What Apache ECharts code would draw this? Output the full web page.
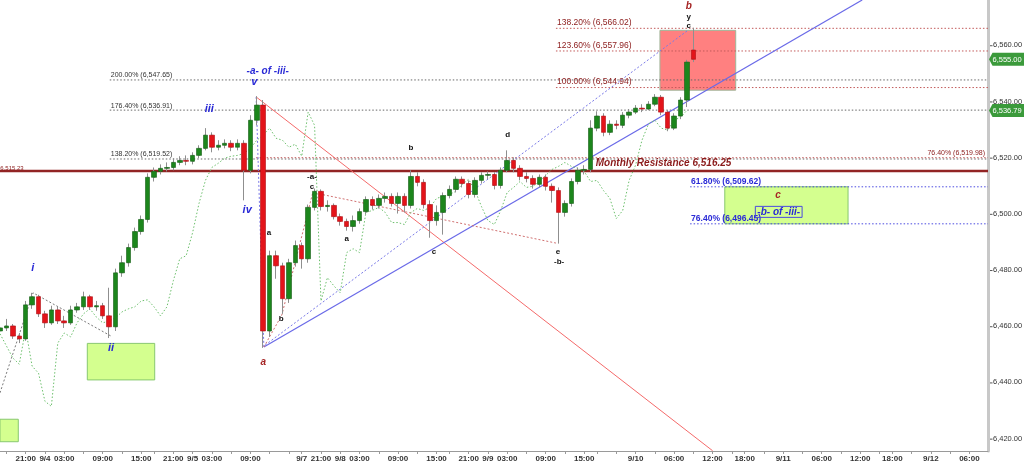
<!DOCTYPE html>
<html><head><meta charset="utf-8">
<script src="https://cdn.jsdelivr.net/npm/echarts@6/dist/echarts.min.js"></script>
<style>html,body{margin:0;padding:0;background:#fff;}#c{width:1024px;height:464px;}</style>
</head><body><div id="c"></div>
<script>
// ---------- axis calendar (hourly bars, 17:00 break, weekend gap) ----------
const sessionDays = ['9/3','9/4','9/5','9/7','9/8','9/9','9/10','9/11','9/12'];
function sessionHours(day){
  const h0_16 = [0,1,2,3,4,5,6,7,8,9,10,11,12,13,14,15,16];
  const h18_23 = [18,19,20,21,22,23];
  if (day === '9/3') return [16].concat(h18_23);
  if (day === '9/5') return h0_16;
  if (day === '9/7') return h18_23;
  if (day === '9/12') return [0,1,2,3,4,5,6,7,8,9];
  return h0_16.concat(h18_23);
}
const barTimes = [];
sessionDays.forEach(d => sessionHours(d).forEach(h => barTimes.push(d + ' ' + String(h).padStart(2,'0') + ':00')));

const xTickLabels = [
  ['9/3 21:00','21:00'],['9/4 00:00','9/4'],['9/4 03:00','03:00'],['9/4 09:00','09:00'],['9/4 15:00','15:00'],
  ['9/4 21:00','21:00'],['9/5 00:00','9/5'],['9/5 03:00','03:00'],['9/5 09:00','09:00'],['9/7 18:00','9/7'],
  ['9/7 21:00','21:00'],['9/8 00:00','9/8'],['9/8 03:00','03:00'],['9/8 09:00','09:00'],['9/8 15:00','15:00'],
  ['9/8 21:00','21:00'],['9/9 00:00','9/9'],['9/9 03:00','03:00'],['9/9 09:00','09:00'],['9/9 15:00','15:00'],
  ['9/10 00:00','9/10'],['9/10 06:00','06:00'],['9/10 12:00','12:00'],['9/10 18:00','18:00'],['9/11 00:00','9/11'],
  ['9/11 06:00','06:00'],['9/11 12:00','12:00'],['9/11 18:00','18:00'],['9/12 00:00','9/12'],['9/12 06:00','06:00']
];
const yTickValues = [6420,6440,6460,6480,6500,6520,6540,6560];

// ---------- price bars (hourly OHLC) ----------
const opens = [
 6458.3,6459.4,6460.1,6456.5,6455.5,6467.6,6470.5,6464.4,6461.2,6465.8,
 6461.9,6461.2,6465.8,6466.9,6470.5,6466.9,6467.3,6463.7,6459.8,6479.0,
 6482.6,6488.0,6493.7,6498.0,6513.0,6515.1,6516.2,6516.5,6518.3,6519.0,
 6518.7,6520.8,6523.3,6528.0,6523.7,6524.4,6525.1,6523.7,6525.1,6515.5,
 6533.3,6538.7,6458.3,6485.1,6481.5,6469.8,6482.6,6488.7,6484.0,6502.3,
 6508.0,6502.6,6503.0,6499.0,6497.3,6495.5,6497.6,6500.8,6505.1,6503.0,
 6505.5,6506.2,6503.7,6506.2,6503.0,6513.3,6511.2,6503.3,6497.6,6500.5,
 6506.5,6508.7,6512.3,6510.8,6506.9,6511.9,6513.7,6514.0,6510.1,6515.5,
 6519.0,6516.2,6513.3,6512.6,6510.5,6513.0,6509.8,6508.3,6500.5,6503.7,
 6511.5,6515.5,6515.8,6530.5,6534.8,6529.0,6531.9,6531.5,6535.1,6536.2,
 6537.6,6537.3,6539.0,6541.5,6536.2,6530.5,6534.8,6540.5,6558.3];
const closes = [
 6459.4,6460.1,6456.5,6455.5,6467.6,6470.5,6464.4,6461.2,6465.8,6461.9,
 6461.2,6465.8,6466.9,6470.5,6466.9,6467.3,6463.7,6459.8,6479.0,6482.6,
 6488.0,6493.7,6498.0,6513.0,6515.1,6516.2,6516.5,6518.3,6519.0,6518.7,
 6520.8,6523.3,6528.0,6523.7,6524.4,6525.1,6523.7,6525.1,6515.5,6533.3,
 6538.7,6458.3,6485.1,6481.5,6469.8,6482.6,6488.7,6484.0,6502.3,6508.0,
 6502.6,6503.0,6499.0,6497.3,6495.5,6497.6,6500.8,6505.1,6503.0,6505.5,
 6506.2,6503.7,6506.2,6503.0,6513.3,6511.2,6503.3,6497.6,6500.5,6506.5,
 6508.7,6512.3,6510.8,6506.9,6511.9,6513.7,6514.0,6510.1,6515.5,6519.0,
 6516.2,6513.3,6512.6,6510.5,6513.0,6509.8,6508.3,6500.5,6503.7,6511.5,
 6515.5,6515.8,6530.5,6534.8,6529.0,6531.9,6531.5,6535.1,6536.2,6537.6,
 6537.3,6539.0,6541.5,6536.2,6530.5,6534.8,6540.5,6554.0,6555.0];
const lows = [
 6456.9,6458.3,6455.5,6454.0,6454.8,6466.2,6463.3,6459.4,6460.5,6460.8,
 6459.4,6460.5,6464.8,6465.8,6465.8,6465.5,6462.6,6455.8,6458.3,6477.6,
 6481.2,6486.9,6492.6,6496.9,6511.5,6514.0,6515.1,6515.5,6517.3,6517.3,
 6517.6,6519.8,6522.6,6521.9,6522.6,6523.3,6522.3,6522.6,6504.8,6514.4,
 6531.5,6452.3,6456.2,6476.9,6464.4,6468.3,6481.2,6480.5,6482.6,6501.2,
 6501.2,6500.8,6498.0,6495.8,6494.0,6493.7,6496.5,6499.8,6501.5,6501.9,
 6504.0,6502.6,6500.1,6500.5,6501.9,6509.8,6501.9,6491.5,6495.8,6492.6,
 6505.5,6507.6,6509.4,6505.5,6505.8,6510.8,6512.3,6508.7,6509.0,6514.8,
 6514.8,6511.9,6511.2,6509.0,6509.4,6508.3,6504.0,6489.4,6499.0,6502.6,
 6510.5,6514.0,6514.8,6529.4,6527.6,6528.0,6530.1,6530.5,6534.0,6535.5,
 6536.2,6536.9,6538.3,6535.1,6529.4,6529.8,6533.7,6538.0,6554.0];
const highs = [
 6461.2,6462.6,6460.8,6457.6,6469.0,6471.9,6471.2,6465.5,6467.3,6466.9,
 6463.7,6467.3,6468.3,6472.3,6471.2,6469.0,6468.3,6473.7,6480.5,6485.1,
 6489.4,6495.1,6499.4,6514.4,6516.5,6517.6,6518.3,6519.8,6520.5,6520.8,
 6521.9,6524.4,6530.5,6529.0,6526.2,6526.5,6526.2,6526.5,6526.2,6535.1,
 6541.9,6540.5,6486.9,6486.9,6482.6,6484.0,6490.5,6489.8,6503.3,6509.0,
 6508.7,6504.8,6503.7,6500.1,6498.3,6499.4,6501.9,6506.2,6506.2,6506.9,
 6507.6,6507.3,6507.6,6507.3,6515.5,6514.8,6512.3,6504.8,6503.0,6507.6,
 6510.1,6513.3,6513.3,6511.9,6513.0,6514.8,6515.1,6514.8,6516.5,6522.6,
 6520.1,6517.3,6514.8,6513.7,6514.0,6514.0,6510.8,6509.4,6504.8,6512.6,
 6516.5,6517.3,6533.3,6536.5,6535.8,6533.3,6533.3,6536.2,6537.3,6538.7,
 6539.0,6540.1,6542.6,6542.3,6536.9,6535.8,6541.5,6554.8,6566.2];

// green dotted indicator
const indicator = [
 6457.3,6453.0,6448.7,6446.5,6459.0,6445.8,6443.3,6433.3,6431.5,6454.0,
 6457.6,6456.2,6461.2,6464.4,6466.2,6463.3,6461.2,6461.9,6463.0,6465.1,
 6466.2,6466.9,6469.0,6469.4,6466.9,6463.7,6466.9,6476.2,6484.0,6485.1,
 6493.3,6503.7,6511.9,6516.5,6518.0,6519.8,6520.5,6520.8,6521.5,6523.3,
 6526.2,6528.0,6530.5,6526.9,6526.2,6523.7,6524.8,6520.5,6536.2,6531.5,
 6469.0,6477.3,6474.4,6471.9,6486.2,6487.6,6486.2,6500.5,6501.2,6502.3,
 6500.5,6496.9,6496.9,6496.2,6500.5,6501.9,6501.2,6502.3,6505.5,6506.2,
 6506.9,6508.0,6510.5,6512.3,6508.3,6502.6,6497.6,6496.2,6501.2,6507.6,
 6509.4,6511.5,6509.4,6509.8,6511.5,6513.7,6515.8,6516.9,6518.3,6516.9,
 6516.2,6515.1,6511.5,6511.9,6508.3,6505.5,6498.3,6501.2,6511.9,6517.3,
 6526.2,6531.9,6533.3,6530.5,6529.8,6533.3,6534.4,6536.79];

// ---------- drawings (data coordinates: [bar index, price]) ----------
const X_MAX = 153.9, Y_MIN = 6415.6, Y_MAX = 6576.1;
const fibLevels = [
  // [start bar, price, label, kind]
  [17.1, 6547.65, '200.00% (6,547.65)', 'gray'],
  [17.1, 6536.91, '176.40% (6,536.91)', 'gray'],
  [17.1, 6519.52, '138.20% (6,519.52)', 'gray'],
  [39.9, 6519.98, '76.40% (6,519.98)', 'redSmall'],
  [86.6, 6566.02, '138.20% (6,566.02)', 'red'],
  [86.6, 6557.96, '123.60% (6,557.96)', 'red'],
  [86.6, 6544.94, '100.00% (6,544.94)', 'red'],
  [107.5, 6509.62, '61.80% (6,509.62)', 'blue'],
  [107.5, 6496.45, '76.40% (6,496.45)', 'blue']
];
const resistance = 6515.23;
const trendLines = [
  [[39.9,6541.6],[111.0,6415.7]], // red solid
  [[41.1,6452.6],[134.3,6576.1]], // blue solid
  [[41.3,6453.3],[107.2,6565.4]], // blue dotted
  [[39.9,6541.6],[41.1,6452.6]],  // blue dotted
  [[49.1,6507.4],[86.6,6489.6]],  // red dotted
  [[41.1,6452.6],[43.9,6464.0],[48.75,6507.8]], // red dotted
  [[0,6436.3],[5.14,6471.9],[17.3,6456.5]] // gray dotted
];
const trendKinds = ['redSolid','blueSolid','blueDot','blueDot','redDot','redDot','grayDot'];
const boxes = [
  [[102.8,6565.3],[114.6,6544.0],'red'],
  [[112.9,6509.62],[132.1,6496.45],'green'],
  [[13.6,6453.9],[24.1,6440.9],'green'],
  [[0,6426.9],[2.85,6418.9],'green']
];
const texts = [
  ['i', 5.1, 6480.7, 'blueWave'],
  ['ii', 17.3, 6452.3, 'blueWave'],
  ['iii', 32.6, 6537.3, 'blueWave'],
  ['iv', 38.5, 6501.4, 'blueWave'],
  ['v', 39.6, 6546.9, 'blueWave'],
  ['-a- of -iii-', 41.7, 6550.9, 'blueTitle'],
  ['a', 41.0, 6447.3, 'redWave'],
  ['a', 41.9, 6493.2, 'black'],
  ['b', 43.8, 6462.6, 'black'],
  ['-a-', 48.6, 6513.1, 'black'],
  ['c', 48.6, 6509.6, 'black'],
  ['a', 54.0, 6491.1, 'black'],
  ['b', 64.0, 6523.5, 'black'],
  ['c', 67.6, 6486.4, 'black'],
  ['d', 79.1, 6528.1, 'black'],
  ['e', 86.9, 6486.4, 'black'],
  ['-b-', 87.1, 6482.9, 'black'],
  ['b', 107.3, 6574.0, 'redWave'],
  ['y', 107.3, 6570.1, 'black'],
  ['c', 107.3, 6566.9, 'black'],
  ['c', 121.2, 6506.7, 'redWave'],
  ['-b- of -iii-', 121.3, 6500.7, 'blueBoxed'],
  ['Monthly Resistance 6,516.25', 92.8, 6518.1, 'resist'],
  ['6,515.23', 0.05, 6515.23, 'tiny']
];

// ---------- styles ----------
const FONT = 'Liberation Sans';
const UP = '#1c861c', DOWN = '#e3141a';
const lineStyles = {
  redSolid: {color:'#f46a6a', width:1, type:'solid'},
  blueSolid: {color:'#6a6ae8', width:1.2, type:'solid'},
  blueDot: {color:'#7a7ae8', width:1, type:[2,2]},
  redDot: {color:'#d07070', width:1, type:[2,2]},
  grayDot: {color:'#7a7a7a', width:1, type:[2,2]},
  gray: {color:'#666', width:1, type:[1.5,2]},
  red: {color:'#c25a5a', width:1, type:[1.5,2]},
  redSmall: {color:'#c25a5a', width:1, type:[1.5,2]},
  blue: {color:'#4a4ae0', width:1, type:[1.5,2]}
};
const fibTextStyles = {
  gray: {fill:'#333', fontSize:7, fontWeight:'normal'},
  red: {fill:'#8b1a1a', fontSize:8.5, fontWeight:'normal'},
  redSmall: {fill:'#8b1a1a', fontSize:7, fontWeight:'normal'},
  blue: {fill:'#2a2ad6', fontSize:8.5, fontWeight:'bold'}
};
const textStyles = {
  blueWave: {fill:'#2a2ad6', fontSize:11, fontWeight:'bold', fontStyle:'italic'},
  blueTitle: {fill:'#2a2ad6', fontSize:10, fontWeight:'bold', fontStyle:'italic'},
  blueBoxed: {fill:'#2a2ad6', fontSize:10, fontWeight:'bold', fontStyle:'italic', borderColor:'#4a4ae0', borderWidth:1, padding:[1,2,0,2]},
  black: {fill:'#111', fontSize:8, fontWeight:'bold'},
  redWave: {fill:'#a52424', fontSize:10, fontWeight:'bold', fontStyle:'italic'},
  resist: {fill:'#8b1a1a', fontSize:10, fontWeight:'bold', fontStyle:'italic', align:'left'},
  tiny: {fill:'#8b1a1a', fontSize:6, align:'left', verticalAlign:'bottom'}
};
const boxStyles = {
  red: {fill:'#ff8080', stroke:'#9fb79a'},
  green: {fill:'#d4ff8f', stroke:'#88c870'}
};

// ---------- build ----------
const labelMap = {};
xTickLabels.forEach(([t, s]) => { labelMap[barTimes.indexOf(t)] = s; });
const labelIdx = Object.keys(labelMap).map(Number);
const tickIdx = [];
barTimes.forEach((t, i) => { const h = parseInt(t.split(' ')[1], 10); if (h % 3 === 0) tickIdx.push(i); });

const wickData = opens.map((o, i) => [i, o, closes[i], lows[i], highs[i]]);
const bodyData = opens.map((o, i) => [i, o, closes[i], Math.min(o, closes[i]), Math.max(o, closes[i])]);
const fmt2 = v => v.toLocaleString('en-US',{minimumFractionDigits:2, maximumFractionDigits:2});

const series = [];
// boxes
series.push({
  type:'custom', z:1, silent:true, animation:false,
  data: boxes.map(b => [b[0][0], b[0][1], b[1][0], b[1][1]]),
  renderItem: (params, api) => {
    const b = boxes[params.dataIndex];
    const p1 = api.coord(b[0]), p2 = api.coord(b[1]);
    const st = boxStyles[b[2]];
    return {type:'rect', shape:{x:Math.min(p1[0],p2[0]), y:Math.min(p1[1],p2[1]), width:Math.abs(p2[0]-p1[0]), height:Math.abs(p2[1]-p1[1])},
      style:{fill:st.fill, stroke:st.stroke, lineWidth:1}};
  }
});
// fib horizontal lines
fibLevels.forEach(f => {
  series.push({type:'line', z:2, silent:true, animation:false, symbol:'none',
    data:[[f[0], f[1]],[X_MAX, f[1]]], lineStyle: lineStyles[f[3]]});
});
// resistance line
series.push({type:'line', z:2, silent:true, animation:false, symbol:'none',
  data:[[0, resistance],[X_MAX, resistance]], lineStyle:{color:'#922424', width:2.5}});
// trend lines
trendLines.forEach((pts, k) => {
  series.push({type:'line', z:2, silent:true, animation:false, symbol:'none',
    data: pts, lineStyle: lineStyles[trendKinds[k]]});
});
// indicator
series.push({type:'line', z:3, silent:true, animation:false, symbol:'none',
  data: indicator.map((v, i) => [i, v]), lineStyle:{color:'#6cbf6c', width:1, type:[1.5,2]}});
// wicks
series.push({type:'candlestick', z:4, silent:true, animation:false, barWidth:1.4,
  encode:{x:0, y:[1,2,3,4]}, data: wickData,
  itemStyle:{color:'#8f8f8f', color0:'#8f8f8f', borderColor:'#8f8f8f', borderColor0:'#8f8f8f', borderWidth:1}});
// bodies
series.push({type:'candlestick', z:5, silent:true, animation:false, barWidth:5,
  encode:{x:0, y:[1,2,3,4]}, data: bodyData,
  itemStyle:{color:UP, color0:DOWN, borderColor:'#145c14', borderColor0:'#b00e12', borderWidth:0.6}});
// fib labels
series.push({
  type:'custom', z:6, silent:true, animation:false,
  data: fibLevels.map(f => [f[0], f[1]]),
  renderItem: (params, api) => {
    const f = fibLevels[params.dataIndex];
    const st = fibTextStyles[f[3]];
    let p = api.coord([f[0], f[1]]);
    let align = 'left', x = p[0] + 1;
    if (f[3] === 'redSmall') { align = 'right'; x = api.coord([X_MAX, f[1]])[0] - 3; }
    return {type:'text', x:x, y:p[1] - 1, style:Object.assign({text:f[2], align:align, verticalAlign:'bottom', fontFamily:FONT}, st)};
  }
});
// wave labels & texts
series.push({
  type:'custom', z:7, silent:true, animation:false,
  data: texts.map(t => [t[1], t[2]]),
  renderItem: (params, api) => {
    const t = texts[params.dataIndex];
    const p = api.coord([t[1], t[2]]);
    const st = Object.assign({text:t[0], align:'center', verticalAlign:'middle', fontFamily:FONT}, textStyles[t[3]]);
    return {type:'text', x:p[0], y:p[1], style:st};
  }
});
// y-axis tick marks on the right axis
series.push({
  type:'custom', z:8, silent:true, animation:false, clip:false,
  data: yTickValues.map(v => [X_MAX, v]),
  renderItem: (params, api) => {
    const p = api.coord([X_MAX, yTickValues[params.dataIndex]]);
    return {type:'line', shape:{x1:p[0]+2, y1:p[1]+0.5, x2:p[0]+4.5, y2:p[1]+0.5}, style:{stroke:'#555', lineWidth:1}};
  }
});
// price tags on the right axis
const tagValues = [closes[closes.length-1], indicator[indicator.length-1]];
series.push({
  type:'custom', z:9, silent:true, animation:false, clip:false,
  data: tagValues.map(v => [X_MAX, v]),
  renderItem: (params, api) => {
    const v = tagValues[params.dataIndex];
    const p = api.coord([X_MAX, v]);
    const x0 = p[0] + 1, y0 = p[1];
    return {type:'group', children:[
      {type:'polygon', shape:{points:[[x0,y0],[x0+3.5,y0-6.5],[x0+40,y0-6.5],[x0+40,y0+6.5],[x0+3.5,y0+6.5]]}, style:{fill:'#3b9a3b'}},
      {type:'text', x:x0+3.5, y:y0+0.5, style:{text:fmt2(v), fill:'#fff', fontSize:7.5, fontFamily:FONT, verticalAlign:'middle', align:'left'}}
    ]};
  }
});

const chart = echarts.init(document.getElementById('c'), null, {renderer:'canvas'});
chart.setOption({
  animation:false,
  backgroundColor:'#ffffff',
  grid:{left:0, right:36, top:0, bottom:13, containLabel:false, outerBoundsMode:'none'},
  xAxis:{type:'value', min:0, max:X_MAX, splitLine:{show:false},
    axisLine:{show:true, onZero:false, lineStyle:{color:'#9a9a9a', width:1}},
    axisTick:{show:true, customValues: tickIdx, length:3, lineStyle:{color:'#9a9a9a'}},
    axisLabel:{show:true, customValues: labelIdx, margin:4, fontSize:8, fontWeight:'bold', fontFamily:FONT, color:'#333',
      formatter: v => labelMap[Math.round(v)] || ''}},
  yAxis:{type:'value', position:'right', min:Y_MIN, max:Y_MAX, scale:true, splitLine:{show:false},
    axisLine:{show:true, onZero:false, lineStyle:{color:'#c8c8c8', width:3}},
    axisTick:{show:false},
    axisLabel:{show:true, customValues: yTickValues, margin:5, fontSize:7.5, fontFamily:FONT, color:'#333',
      formatter: fmt2}},
  series: series
});
</script></body></html>
